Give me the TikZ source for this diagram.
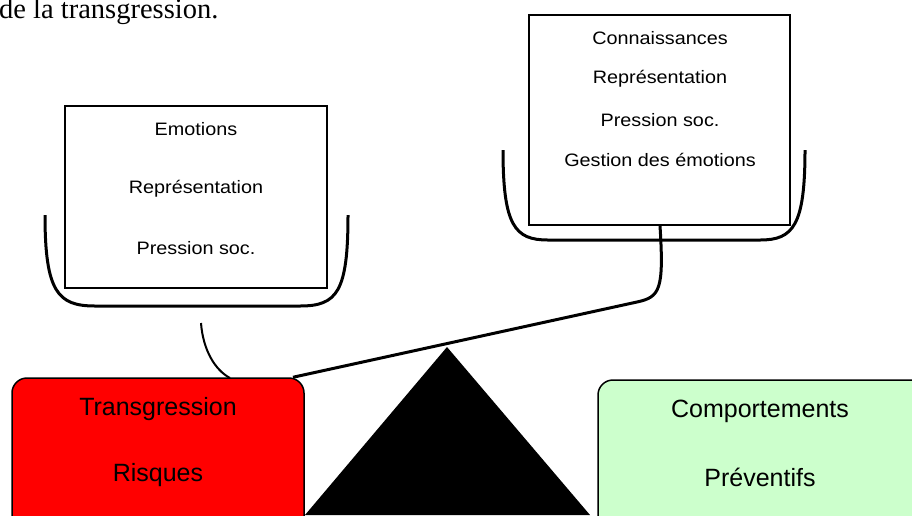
\documentclass[tikz,border=0pt]{standalone}
\usepackage{fontspec}
\setmainfont{Liberation Serif}
\newfontfamily\sansf{Liberation Sans}
\newfontfamily\sanswide[FakeStretch=1.1]{Liberation Sans}
\begin{document}
\begin{tikzpicture}[x=1pt,y=-1pt,
  frame/.style={draw,line width=1.5pt,rectangle,inner sep=0pt},
  smalltxt/.style={font=\sanswide\fontsize{18}{20}\selectfont,inner sep=0pt,anchor=center},
  bigtxt/.style={font=\sansf\fontsize{25}{27}\selectfont,inner sep=0pt,anchor=center},
  cup/.style={line width=3pt},
  stringline/.style={line width=2pt},
  plate/.style={draw,line width=1.5pt,rounded corners=15pt}]
\useasboundingbox (0,0) rectangle (912,515);
\clip (0,0) rectangle (912,515);
% top text
\node[font=\fontsize{28.5}{30}\selectfont,anchor=base west,inner sep=0pt] (title) at (-1,18) {de la transgression.};
% triangle (fulcrum)
\fill (447,347) -- (305,515) -- (590,515) -- cycle;
\coordinate (apex) at (447,347);
% left box
\node[frame,minimum width=262pt,minimum height=182pt] (lbox) at (196,197) {};
\node[smalltxt] (l1) at (196,129) {Emotions};
\node[smalltxt] (l2) at (196,189) {Représentation};
\node[smalltxt] (l3) at (196,248) {Pression soc.};
% right box
\node[frame,minimum width=261pt,minimum height=210pt] (rbox) at (659.5,120) {};
\node[smalltxt] (r1) at (660,38) {Connaissances};
\node[smalltxt] (r2) at (660,79) {Représentation};
\node[smalltxt] (r3) at (660,120) {Pression soc.};
\node[smalltxt] (r4) at (660,160) {Gestion des émotions};
% cups
\draw[cup] (45,215) .. controls (45,292) and (58,306) .. (95,306) -- (300,306) .. controls (337,306) and (348,292) .. (348,215);
\draw[cup] (503,150) .. controls (503,226) and (515,240) .. (548,240) -- (760,240) .. controls (793,240) and (805,226) .. (805,150);
% bottom plates
\node[plate,fill=red,minimum width=292pt,minimum height=182pt] (red) at (158,469) {};
\node[bigtxt] (t1) at (158,409) {Transgression};
\node[bigtxt] (t2) at (158,475) {Risques};
\definecolor{lightgreen}{HTML}{CCFFCC}
\node[plate,fill=lightgreen,minimum width=327pt,minimum height=180pt] (green) at (761.5,470) {};
\node[bigtxt] (g1) at (760,411) {Comportements};
\node[bigtxt] (g2) at (760,477) {Préventifs};
% strings
\coordinate (lstr) at (201,323);
\draw[stringline] (lstr) .. controls (203,350) and (215,370) .. (230,378);
\coordinate (rbend) at (637,302);
\draw[cup] (rbox.south -| 660,0) .. controls (664,290) and (660,297) .. (rbend) -- (red.north east -| 293,0 |- 0,378);
\end{tikzpicture}
\end{document}
